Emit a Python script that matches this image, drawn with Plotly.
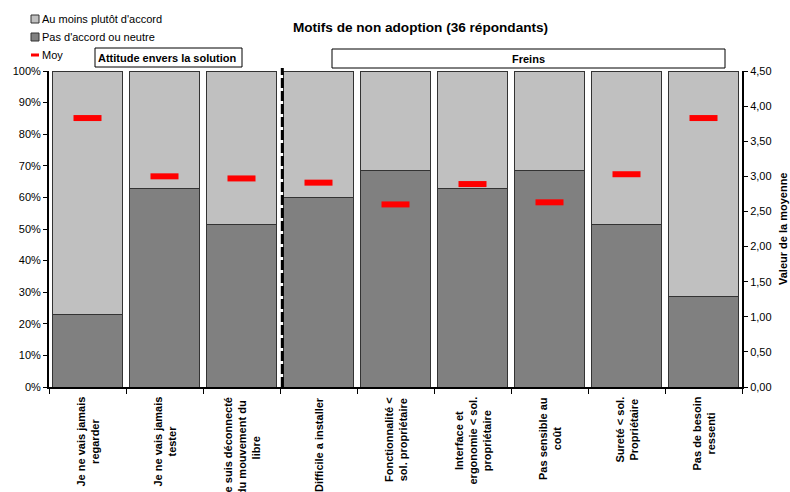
import plotly.graph_objects as go

# ---- data ----
categories = [
    "Je ne vais jamais<br>regarder",
    "Je ne vais jamais<br>tester",
    "Je suis déconnecté<br>du mouvement du<br>libre",
    "Difficile a installer",
    "Fonctionnalité &lt;<br>sol. propriétaire",
    "Interface et<br>ergonomie &lt; sol.<br>propriétaire",
    "Pas sensible au<br>coût",
    "Sureté &lt; sol.<br>Propriétaire",
    "Pas de besoin<br>ressenti",
]
cat_keys = [f"c{i}" for i in range(len(categories))]
pas_accord = [0.229, 0.629, 0.515, 0.600, 0.686, 0.629, 0.686, 0.515, 0.286]
plutot_accord = [0.771, 0.371, 0.485, 0.400, 0.314, 0.371, 0.314, 0.485, 0.714]
moyenne = [3.83, 3.00, 2.97, 2.91, 2.60, 2.89, 2.63, 3.03, 3.83]

series_names = ["Au moins plutôt d'accord", "Pas d'accord ou neutre", "Moy"]
title_text = "Motifs de non adoption (36 répondants)"
group_labels = ["Attitude envers la solution", "Freins"]
y2_title = "Valeur de la moyenne"

LIGHT = "#C0C0C0"
DARK = "#808080"
RED = "#FF0000"
FONT = "Liberation Sans, Arial, sans-serif"

W, H = 790, 492
# plot area in page pixels: x 49..742, y 71..387
PL, PR, PT, PB = 49, 742, 71, 387
L, T, R, B = PL, PT, W - PR, H - PB
PW = PR - PL
PH = PB - PT


def px(x):
    return (x - PL) / PW


def py(y):
    return (PB - y) / PH


fig = go.Figure()
fig.add_trace(go.Bar(x=cat_keys, y=pas_accord, name=series_names[1],
                     marker=dict(color=DARK, line=dict(color="#333333", width=1)),
                     showlegend=False))
fig.add_trace(go.Bar(x=cat_keys, y=plutot_accord, name=series_names[0],
                     marker=dict(color=LIGHT, line=dict(color="#333333", width=1)),
                     showlegend=False))
fig.add_trace(go.Scatter(x=cat_keys, y=moyenne, name=series_names[2], yaxis="y2",
                         mode="markers",
                         marker=dict(symbol="line-ew", size=20,
                                     line=dict(color=RED, width=6)),
                         showlegend=False))

shapes = []
annotations = []

# manual legend (top-left)
legend_items = [(series_names[0], LIGHT, 19), (series_names[1], DARK, 37)]
for name, col, yc in legend_items:
    shapes.append(dict(type="rect", xref="paper", yref="paper",
                       x0=px(31), x1=px(39), y0=py(yc + 4), y1=py(yc - 4),
                       fillcolor=col, line=dict(color="#333333", width=1)))
    annotations.append(dict(text=name, xref="paper", yref="paper", x=px(40), y=py(yc),
                            xanchor="left", yanchor="middle", showarrow=False,
                            font=dict(family=FONT, size=11, color="#000")))
shapes.append(dict(type="line", xref="paper", yref="paper",
                   x0=px(31), x1=px(39), y0=py(55), y1=py(55),
                   line=dict(color=RED, width=3)))
annotations.append(dict(text=series_names[2], xref="paper", yref="paper", x=px(40), y=py(55),
                        xanchor="left", yanchor="middle", showarrow=False,
                        font=dict(family=FONT, size=11, color="#000")))

# group header boxes
shapes.append(dict(type="rect", xref="paper", yref="paper",
                   x0=px(95), x1=px(242), y0=py(67), y1=py(48),
                   fillcolor="white", line=dict(color="#000", width=1)))
annotations.append(dict(text="<b>" + group_labels[0] + "</b>", xref="paper", yref="paper",
                        x=px(167), y=py(57.5), xanchor="center", yanchor="middle",
                        showarrow=False, font=dict(family=FONT, size=11, color="#000")))
shapes.append(dict(type="rect", xref="paper", yref="paper",
                   x0=px(332), x1=px(725), y0=py(68), y1=py(49),
                   fillcolor="white", line=dict(color="#000", width=1)))
annotations.append(dict(text="<b>" + group_labels[1] + "</b>", xref="paper", yref="paper",
                        x=px(528.5), y=py(58.5), xanchor="center", yanchor="middle",
                        showarrow=False, font=dict(family=FONT, size=11, color="#000")))

# dashed separator between groups
shapes.append(dict(type="line", xref="x", yref="paper", x0=2.53, x1=2.53,
                   y0=0, y1=py(68), line=dict(color="#000", width=3, dash="10px,3px")))

# category labels (rotated, centered lines)
for k, lab in zip(cat_keys, categories):
    annotations.append(dict(text="<b>" + lab + "</b>", xref="x", yref="paper",
                            x=k, y=0, yshift=-8, xanchor="center", yanchor="top",
                            textangle=-90, align="center", showarrow=False,
                            font=dict(family=FONT, size=11, color="#000")))

# right axis title
annotations.append(dict(text="<b>" + y2_title + "</b>", xref="paper", yref="paper",
                        x=px(783), y=py(229), xanchor="center", yanchor="middle",
                        textangle=-90, showarrow=False,
                        font=dict(family=FONT, size=11, color="#000")))

fig.update_layout(
    template="none",
    width=W, height=H,
    margin=dict(l=L, r=R, t=T, b=B, pad=0),
    paper_bgcolor="white", plot_bgcolor="white",
    barmode="stack", bargap=0.09,
    separators=", ",
    font=dict(family=FONT, size=11, color="#000"),
    title=dict(text="<b>" + title_text + "</b>", x=420.5 / W, xanchor="center",
               y=1 - 27 / H, yanchor="middle",
               font=dict(family=FONT, size=13.6, color="#000")),
    xaxis=dict(type="category", range=[-0.5, 8.5], showline=True, linecolor="#000",
               linewidth=2, ticks="outside", tickson="boundaries", ticklen=5,
               tickcolor="#000", showticklabels=False, showgrid=False, zeroline=False),
    yaxis=dict(range=[0, 1], dtick=0.1, tickformat=".0%", showline=True,
               linecolor="#000", linewidth=2, ticks="outside", ticklen=4,
               tickcolor="#000", showgrid=False, zeroline=False,
               tickfont=dict(family=FONT, size=11, color="#000")),
    yaxis2=dict(range=[0, 4.5], dtick=0.5, tickformat=".2f", overlaying="y",
                side="right", showline=True, linecolor="#000", linewidth=2,
                ticks="outside", ticklen=4, tickcolor="#000", showgrid=False,
                zeroline=False, tickfont=dict(family=FONT, size=11, color="#000")),
    shapes=shapes,
    annotations=annotations,
    showlegend=False,
)

fig.write_html(
    "out.html",
    config={"displayModeBar": False},
    post_script="document.body.style.margin='0';document.body.style.overflow='hidden';",
)
